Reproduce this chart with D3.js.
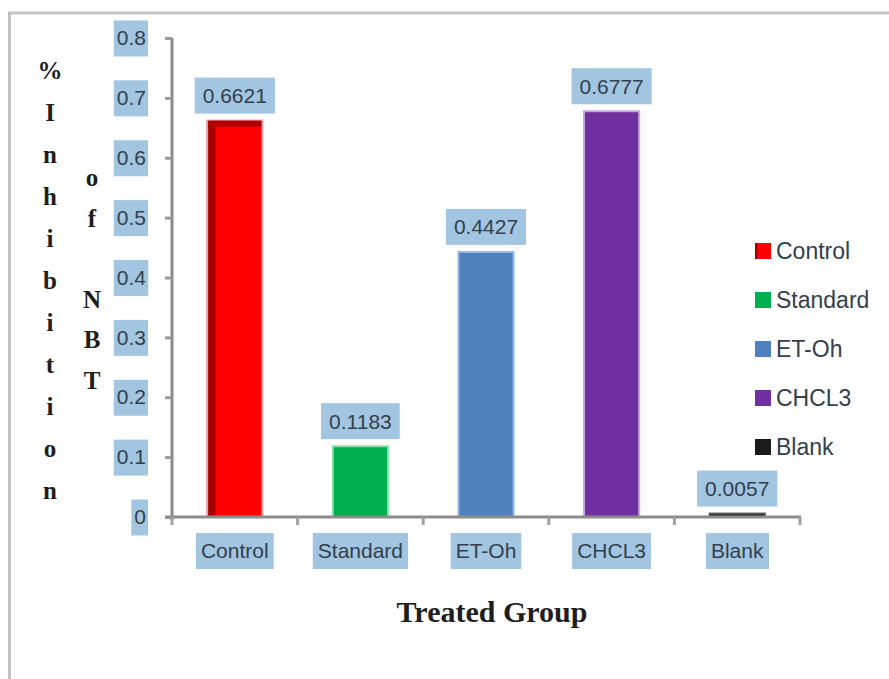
<!DOCTYPE html>
<html>
<head>
<meta charset="utf-8">
<script src="https://cdn.jsdelivr.net/npm/d3@7/dist/d3.min.js"></script>
<style>
  html, body { margin: 0; padding: 0; background: #ffffff; }
  svg { display: block; }
</style>
</head>
<body>
<svg id="chart" width="889" height="679"></svg>
<script>
// ---- data ----
const categories = ["Control", "Standard", "ET-Oh", "CHCL3", "Blank"];
const values = [0.6621, 0.1183, 0.4427, 0.6777, 0.0057];
const valueLabels = ["0.6621", "0.1183", "0.4427", "0.6777", "0.0057"];
const barColors = ["#ff0000", "#00b050", "#4f81bd", "#7030a0", "#1a1a1a"];
const barEdges = ["#e8a0a8", "#8fe0b0", "#9dbbe0", "#c9a8e0", "#555555"];
const yTicks = [0, 0.1, 0.2, 0.3, 0.4, 0.5, 0.6, 0.7, 0.8];
const yTickLabels = ["0", "0.1", "0.2", "0.3", "0.4", "0.5", "0.6", "0.7", "0.8"];
const yTitleCol1 = ["%", "I", "n", "h", "i", "b", "i", "t", "i", "o", "n"];
const yTitleCol2 = ["o", "f", "", "N", "B", "T"];
const xTitle = "Treated Group";

// ---- setup ----
const svg = d3.select("#chart");
const boxFill = "#a2c5e1";
const textCol = "#33404c";
const sansFont = "'Liberation Sans', Arial, sans-serif";
const serifFont = "'Liberation Serif', 'Times New Roman', serif";

// frame lines (top and left)
svg.append("line").attr("x1", 8).attr("x2", 889).attr("y1", 13).attr("y2", 13)
  .attr("stroke", "#c8c8c8").attr("stroke-width", 3);
svg.append("line").attr("x1", 9.5).attr("x2", 9.5).attr("y1", 12).attr("y2", 679)
  .attr("stroke", "#c0c0c0").attr("stroke-width", 3);

const plotLeft = 172, plotRight = 800, plotTop = 38, plotBottom = 517;

const x = d3.scaleBand().domain(categories).range([plotLeft, plotRight])
  .paddingInner(0.56).paddingOuter(0.28);
const y = d3.scaleLinear().domain([0, 0.8]).range([plotBottom, plotTop]);

// gradient for control bar
const defs = svg.append("defs");
const g1 = defs.append("linearGradient").attr("id", "ctrlGrad").attr("x1", "0").attr("x2", "1").attr("y1", "0").attr("y2", "0");
g1.append("stop").attr("offset", "0%").attr("stop-color", "#9a0000");
g1.append("stop").attr("offset", "14%").attr("stop-color", "#b00000");
g1.append("stop").attr("offset", "17%").attr("stop-color", "#ff0000");
g1.append("stop").attr("offset", "100%").attr("stop-color", "#ff0000");

// ---- bars ----
const bars = svg.append("g");
bars.selectAll("rect.bar").data(categories).join("rect")
  .attr("class", "bar")
  .attr("x", d => x(d))
  .attr("width", x.bandwidth())
  .attr("y", (d, i) => y(values[i]))
  .attr("height", (d, i) => y(0) - y(values[i]))
  .attr("fill", (d, i) => i === 0 ? "url(#ctrlGrad)" : barColors[i])
  .attr("stroke", (d, i) => barEdges[i])
  .attr("stroke-width", 2);
// darker top cap on control bar
bars.append("rect")
  .attr("x", x(categories[0]) + 1)
  .attr("width", x.bandwidth() - 2)
  .attr("y", y(values[0]))
  .attr("height", 6)
  .attr("fill", "#b00000");

// ---- y axis ----
const yAxis = d3.axisLeft(y).tickValues(yTicks).tickSize(7).tickSizeOuter(0)
  .tickPadding(19).tickFormat((d, i) => yTickLabels[i]);
const yg = svg.append("g").attr("transform", `translate(${plotLeft},0)`).call(yAxis);
yg.select(".domain").attr("stroke", "#8c8c8c").attr("stroke-width", 3)
  .attr("d", `M0,${plotTop}V${plotBottom + 3}`);
yg.selectAll(".tick line").attr("stroke", "#9a9a9a").attr("stroke-width", 3);
yg.selectAll(".tick text").attr("font-family", sansFont).attr("font-size", 21)
  .attr("fill", textCol);
yg.selectAll(".tick").each(function () {
  const t = d3.select(this).select("text");
  const bb = t.node().getBBox();
  d3.select(this).insert("rect", "text")
    .attr("x", bb.x - 3).attr("y", -18).attr("width", bb.width + 5).attr("height", 36)
    .attr("fill", boxFill);
});

// ---- x axis ----
const xAxis = d3.axisBottom(x).tickSize(0).tickPadding(30);
const xg = svg.append("g").attr("transform", `translate(0,${plotBottom})`).call(xAxis);
xg.select(".domain").attr("stroke", "#8c8c8c").attr("stroke-width", 3)
  .attr("d", `M${plotLeft - 7},0H${plotRight + 1}`);
xg.selectAll(".tick text").attr("font-family", sansFont).attr("font-size", 21)
  .attr("fill", textCol).attr("dy", "0.35em").attr("y", 34);
xg.selectAll(".tick").each(function () {
  const t = d3.select(this).select("text");
  const bb = t.node().getBBox();
  d3.select(this).insert("rect", "text")
    .attr("x", bb.x - 5).attr("y", 16).attr("width", bb.width + 10).attr("height", 36)
    .attr("fill", boxFill);
});
// boundary ticks
const boundaries = categories.map(c => x(c) - x.paddingOuter() * x.step()).concat([plotRight]);
xg.selectAll("line.bt").data(boundaries).join("line").attr("class", "bt")
  .attr("x1", d => d).attr("x2", d => d).attr("y1", 0).attr("y2", 8)
  .attr("stroke", "#a0a0a0").attr("stroke-width", 3);

// ---- value labels ----
const vl = svg.append("g");
categories.forEach((c, i) => {
  const cx = x(c) + x.bandwidth() / 2;
  const yTop = y(values[i]) - 7;
  const gg = vl.append("g");
  const t = gg.append("text").attr("x", cx).attr("y", yTop - 18).attr("dy", "0.35em")
    .attr("text-anchor", "middle").attr("font-family", sansFont).attr("font-size", 21)
    .attr("fill", textCol).text(valueLabels[i]);
  const bb = t.node().getBBox();
  gg.insert("rect", "text").attr("x", bb.x - 8).attr("y", yTop - 36)
    .attr("width", bb.width + 16).attr("height", 36).attr("fill", boxFill);
});

// ---- legend ----
const legend = svg.append("g");
const legY = d3.scalePoint().domain(categories).range([251, 447]);
categories.forEach((c, i) => {
  const cy = legY(c);
  legend.append("rect").attr("x", 755).attr("y", cy - 8).attr("width", 16).attr("height", 16)
    .attr("fill", i === 0 ? "url(#ctrlGrad)" : barColors[i]);
  legend.append("text").attr("x", 776).attr("y", cy).attr("dy", "0.35em")
    .attr("font-family", sansFont).attr("font-size", 23).attr("fill", textCol).text(c);
});

// ---- axis titles ----
svg.append("text").attr("x", 492).attr("y", 622).attr("text-anchor", "middle")
  .attr("font-family", serifFont).attr("font-weight", "bold").attr("font-size", 30)
  .attr("fill", "#1e1e1e").text(xTitle);

const yt = svg.append("g").attr("font-family", serifFont).attr("font-weight", "bold")
  .attr("font-size", 25).attr("fill", "#1e1e1e").attr("text-anchor", "middle");
yTitleCol1.forEach((ch, i) => {
  yt.append("text").attr("x", 50).attr("y", 79 + i * 42).text(ch);
});
yTitleCol2.forEach((ch, i) => {
  if (ch) yt.append("text").attr("x", 92).attr("y", 186 + i * 40.5).text(ch);
});
</script>
</body>
</html>
